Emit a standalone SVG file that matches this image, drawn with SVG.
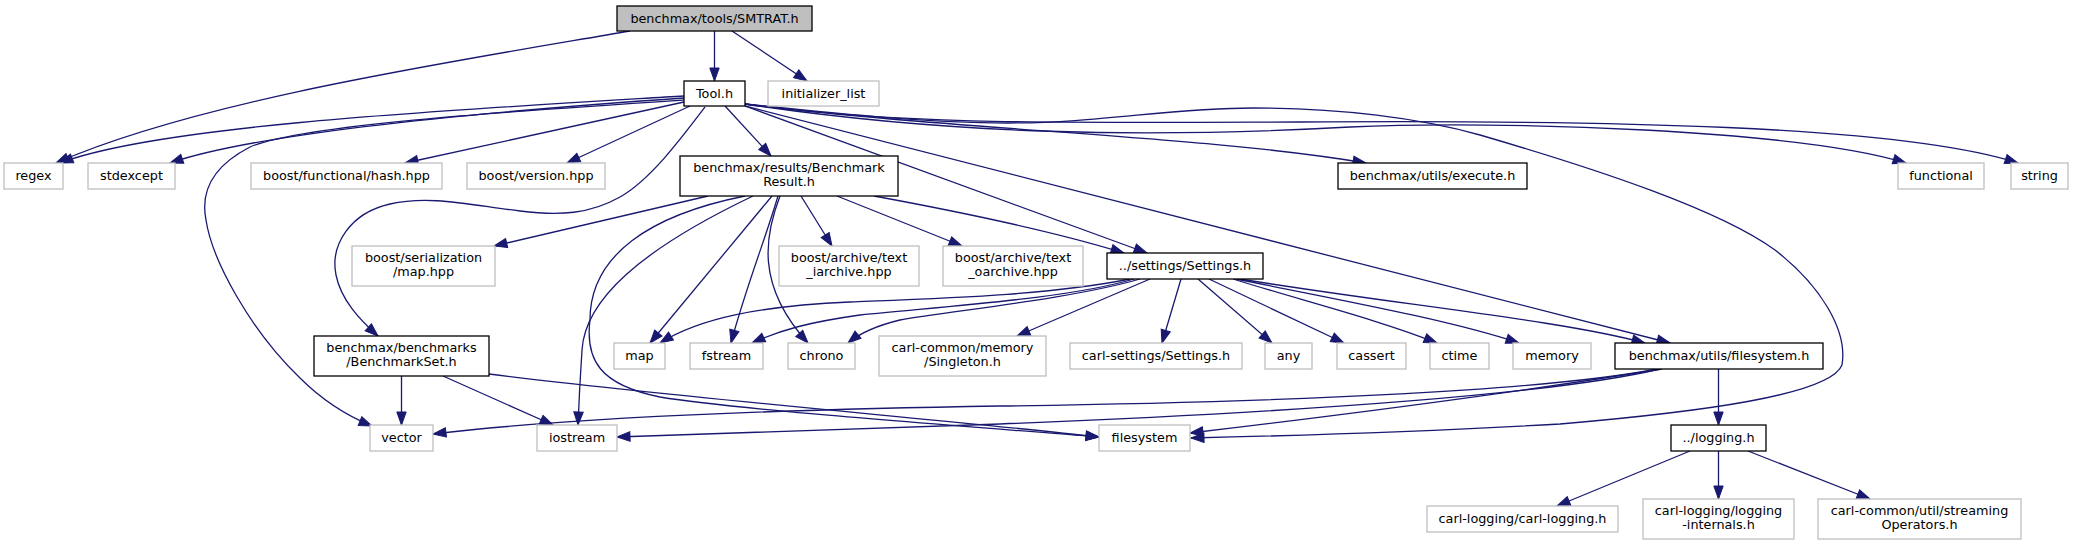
<svg xmlns="http://www.w3.org/2000/svg" width="2073" height="544" viewBox="0 0 2073 544">
<style>
.n rect{fill:#fff;stroke:#000;stroke-width:1.3}
.x rect{fill:#fff;stroke:#bfbfbf;stroke-width:1.3}
.r rect{fill:#bfbfbf;stroke:#000;stroke-width:1.3}
text{font-family:"DejaVu Sans","Liberation Sans",sans-serif;font-size:12.8px;fill:#000;text-anchor:middle}
#edges path{fill:none;stroke:#191970;stroke-width:1.3;marker-end:url(#ah)}
</style>
<defs>
<marker id="ah" markerUnits="userSpaceOnUse" markerWidth="14" markerHeight="11" refX="13" refY="4.7" orient="auto" overflow="visible">
<path d="M0,0 L13,4.7 L0,9.4 z" fill="#191970" stroke="#191970" stroke-width="1"/>
</marker>
</defs>
<rect width="2073" height="544" fill="#fff"/>
<g id="edges">
<path d="M630,31 C450,62 200,100 56,163"/>
<path d="M714.5,31 L714.5,81"/>
<path d="M732,31 L807,81"/>
<path d="M684,96 C450,110 160,125 60,163"/>
<path d="M684,98 C480,112 260,132 170,163"/>
<path d="M684,100 C500,112 300,125 250,147 C215,165 200,190 206,220 C212,260 250,330 300,378 C320,398 345,415 372,426"/>
<path d="M684,102 L405,163"/>
<path d="M690,106 L567,163"/>
<path d="M705,107 C680,140 650,180 620,197 C590,214 560,216 520,211 C470,205 430,195 390,204 C350,213 330,245 336,275 C341,300 360,320 378,336"/>
<path d="M725,106 L771,156"/>
<path d="M745,106 L1147,253"/>
<path d="M745,106 L1670,343"/>
<path d="M745,104 C950,130 1200,135 1366,163"/>
<path d="M745,104 C950,135 1150,138 1350,127 C1500,120 1800,130 1906,163"/>
<path d="M745,104 C900,125 1050,123 1300,122 C1600,120 1900,125 2018,163"/>
<path d="M745,104 C850,115 930,123 1008,123 C1100,123 1170,108 1253,108 C1340,108 1420,118 1480,135 C1600,170 1720,210 1775,250 C1820,285 1848,330 1842,365 C1830,395 1700,412 1560,424 C1400,433 1280,436 1191,438"/>
<path d="M708,196 L494,246"/>
<path d="M801,196 L832,246"/>
<path d="M837,196 L962,246"/>
<path d="M874,196 C950,210 1050,230 1124,253"/>
<path d="M772,196 L650,343"/>
<path d="M778,196 C765,240 745,290 731,343"/>
<path d="M780,196 C765,235 755,285 808,343"/>
<path d="M753,196 C640,250 585,300 582,350 C580,380 579,400 578,425"/>
<path d="M745,196 C650,215 590,255 590,320 C585,360 600,385 660,397 C740,410 950,425 1099,437"/>
<path d="M1130,279 C1050,295 950,298 850,302 C760,306 700,318 660,343"/>
<path d="M1134,279 C1070,298 960,305 860,315 C810,322 780,330 752,343"/>
<path d="M1140,279 C1075,298 960,310 900,320 C875,326 860,333 848,343"/>
<path d="M1150,279 L1017,336"/>
<path d="M1181,279 L1162,343"/>
<path d="M1198,279 L1272,343"/>
<path d="M1209,279 L1344,343"/>
<path d="M1233,279 C1300,300 1380,320 1437,343"/>
<path d="M1236,279 C1340,300 1450,320 1519,343"/>
<path d="M1240,279 C1400,305 1560,320 1645,343"/>
<path d="M401.5,376 L401.5,425"/>
<path d="M443,376 L553,425"/>
<path d="M489,374 C700,400 950,420 1099,437"/>
<path d="M1718.5,369 L1718.5,425"/>
<path d="M1657,369 C1550,390 1300,402 1000,406 C750,410 550,420 433,434"/>
<path d="M1660,369 C1550,395 1300,412 1000,424 C800,430 700,434 617,437"/>
<path d="M1662,369 C1500,395 1300,420 1190,433"/>
<path d="M1690,451 L1557,506"/>
<path d="M1718.5,451 L1718.5,499"/>
<path d="M1748,451 L1870,499"/>
</g>
<g id="smtrat" class="r"><rect x="617" y="6" width="195" height="25"/><text x="714.5" y="22.5">benchmax/tools/SMTRAT.h</text></g>
<g id="tool" class="n"><rect x="684" y="81" width="61" height="25"/><text x="714.5" y="97.5">Tool.h</text></g>
<g id="initializer_list" class="x"><rect x="768" y="81" width="111" height="25"/><text x="823.5" y="97.5">initializer_list</text></g>
<g id="regex" class="x"><rect x="4" y="163" width="59" height="26"/><text x="33.5" y="179.5">regex</text></g>
<g id="stdexcept" class="x"><rect x="88" y="163" width="87" height="26"/><text x="131.5" y="179.5">stdexcept</text></g>
<g id="hash" class="x"><rect x="251" y="163" width="191" height="26"/><text x="346.5" y="179.5">boost/functional/hash.hpp</text></g>
<g id="version" class="x"><rect x="467" y="163" width="138" height="26"/><text x="536" y="179.5">boost/version.hpp</text></g>
<g id="benchmarkresult" class="n"><rect x="680" y="156" width="218" height="40"/><text x="789" y="171.5">benchmax/results/Benchmark</text><text x="789" y="186">Result.h</text></g>
<g id="execute" class="n"><rect x="1338" y="163" width="189" height="26"/><text x="1432.5" y="179.5">benchmax/utils/execute.h</text></g>
<g id="functional" class="x"><rect x="1898" y="163" width="86" height="26"/><text x="1941" y="179.5">functional</text></g>
<g id="string" class="x"><rect x="2011" y="163" width="57" height="26"/><text x="2039.5" y="179.5">string</text></g>
<g id="serialization_map" class="x"><rect x="352" y="246" width="143" height="40"/><text x="423.5" y="261.5">boost/serialization</text><text x="423.5" y="276">/map.hpp</text></g>
<g id="text_iarchive" class="x"><rect x="779" y="246" width="140" height="40"/><text x="849" y="261.5">boost/archive/text</text><text x="849" y="276">_iarchive.hpp</text></g>
<g id="text_oarchive" class="x"><rect x="943" y="246" width="140" height="40"/><text x="1013" y="261.5">boost/archive/text</text><text x="1013" y="276">_oarchive.hpp</text></g>
<g id="settings" class="n"><rect x="1107" y="253" width="156" height="26"/><text x="1185" y="269.5">../settings/Settings.h</text></g>
<g id="benchmarkset" class="n"><rect x="314" y="336" width="175" height="40"/><text x="401.5" y="351.5">benchmax/benchmarks</text><text x="401.5" y="366">/BenchmarkSet.h</text></g>
<g id="map" class="x"><rect x="614" y="343" width="51" height="26"/><text x="639.5" y="359.5">map</text></g>
<g id="fstream" class="x"><rect x="690" y="343" width="73" height="26"/><text x="726.5" y="359.5">fstream</text></g>
<g id="chrono" class="x"><rect x="788" y="343" width="67" height="26"/><text x="821.5" y="359.5">chrono</text></g>
<g id="singleton" class="x"><rect x="879" y="336" width="167" height="40"/><text x="962.5" y="351.5">carl-common/memory</text><text x="962.5" y="366">/Singleton.h</text></g>
<g id="carl_settings" class="x"><rect x="1070" y="343" width="172" height="26"/><text x="1156" y="359.5">carl-settings/Settings.h</text></g>
<g id="any" class="x"><rect x="1265" y="343" width="47" height="26"/><text x="1288.5" y="359.5">any</text></g>
<g id="cassert" class="x"><rect x="1337" y="343" width="69" height="26"/><text x="1371.5" y="359.5">cassert</text></g>
<g id="ctime" class="x"><rect x="1430" y="343" width="59" height="26"/><text x="1459.5" y="359.5">ctime</text></g>
<g id="memory" class="x"><rect x="1513" y="343" width="78" height="26"/><text x="1552" y="359.5">memory</text></g>
<g id="filesystem_h" class="n"><rect x="1615" y="343" width="208" height="26"/><text x="1719" y="359.5">benchmax/utils/filesystem.h</text></g>
<g id="vector" class="x"><rect x="370" y="425" width="63" height="26"/><text x="401.5" y="441.5">vector</text></g>
<g id="iostream" class="x"><rect x="537" y="425" width="80" height="26"/><text x="577" y="441.5">iostream</text></g>
<g id="filesystem" class="x"><rect x="1099" y="425" width="91" height="26"/><text x="1144.5" y="441.5">filesystem</text></g>
<g id="logging" class="n"><rect x="1671" y="425" width="95" height="26"/><text x="1718.5" y="441.5">../logging.h</text></g>
<g id="carl_logging" class="x"><rect x="1427" y="506" width="191" height="26"/><text x="1522.5" y="522.5">carl-logging/carl-logging.h</text></g>
<g id="logging_internals" class="x"><rect x="1643" y="499" width="151" height="40"/><text x="1718.5" y="514.5">carl-logging/logging</text><text x="1718.5" y="529">-internals.h</text></g>
<g id="streaming" class="x"><rect x="1818" y="499" width="203" height="40"/><text x="1919.5" y="514.5">carl-common/util/streaming</text><text x="1919.5" y="529">Operators.h</text></g>
</svg>
